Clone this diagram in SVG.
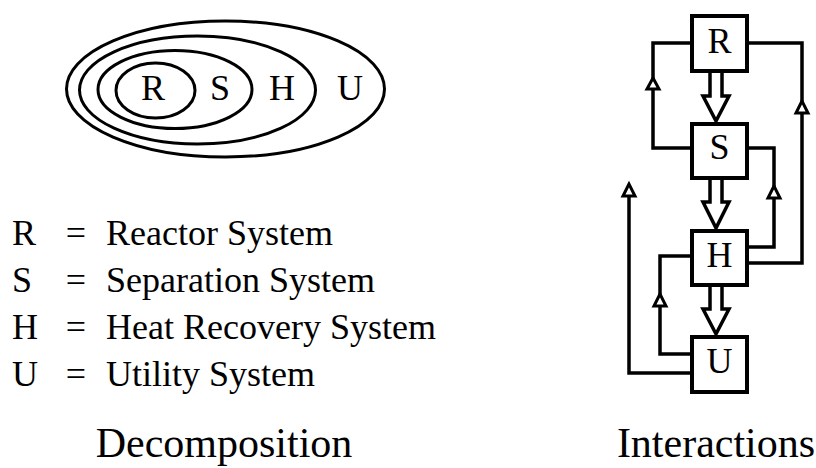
<svg xmlns="http://www.w3.org/2000/svg" width="816" height="468" viewBox="0 0 816 468" font-family="'Liberation Serif', 'DejaVu Serif', 'Times New Roman', serif">
  <style>
    text { font-family: 'Liberation Serif', 'DejaVu Serif', 'Times New Roman', serif; fill: #000; }
    .lbl { font-size: 36px; }
    .title { font-size: 42px; text-anchor: middle; }
    .mid { text-anchor: middle; }
    .ring { fill: none; stroke: #000; stroke-width: 3; }
    .box rect { fill: #fff; stroke: #000; stroke-width: 4; }
    .wire { fill: none; stroke: #000; stroke-width: 3.5; stroke-linejoin: miter; }
    .block { fill: #fff; stroke: #000; stroke-width: 3.5; stroke-linejoin: miter; }
    .tri { fill: #fff; stroke: #000; stroke-width: 3; stroke-linejoin: miter; }
  </style>
  <rect width="816" height="468" fill="#fff"/>

  <!-- Nested system layers -->
  <g id="decomposition">
    <ellipse class="ring" cx="225.5" cy="89" rx="159" ry="68"/>
    <ellipse class="ring" cx="197.5" cy="90" rx="118" ry="54"/>
    <ellipse class="ring" cx="175" cy="89.5" rx="77" ry="39"/>
    <ellipse class="ring" cx="155.5" cy="90.5" rx="39.5" ry="27.5"/>
    <text class="lbl mid" x="153" y="100">R</text>
    <text class="lbl mid" x="220" y="100">S</text>
    <text class="lbl mid" x="282" y="100">H</text>
    <text class="lbl mid" x="350" y="100">U</text>
  </g>

  <!-- Legend -->
  <g id="legend" class="lbl">
    <text x="12" y="245">R</text><text class="mid" x="76" y="245">=</text><text x="106" y="245">Reactor System</text>
    <text x="12" y="292">S</text><text class="mid" x="76" y="292">=</text><text x="106" y="292">Separation System</text>
    <text x="12" y="339">H</text><text class="mid" x="76" y="339">=</text><text x="106" y="339">Heat Recovery System</text>
    <text x="12" y="386">U</text><text class="mid" x="76" y="386">=</text><text x="106" y="386">Utility System</text>
  </g>

  <text class="title" x="224" y="457">Decomposition</text>
  <text class="title" x="716" y="457">Interactions</text>

  <!-- Connectors -->
  <g id="connectors">
    <!-- feedback loops -->
    <path class="wire" d="M692,148 H653 V43 H692"/>
    <path class="wire" d="M747,43 H802 V263 H747"/>
    <path class="wire" d="M747,148 H774 V247 H747"/>
    <path class="wire" d="M692,256 H660 V354 H692"/>
    <path class="wire" d="M692,373 H629 V197"/>
    <polygon class="tri" points="653,78 647,89 659,89"/>
    <polygon class="tri" points="802,101 796,113 808,113"/>
    <polygon class="tri" points="774,186 768,198 780,198"/>
    <polygon class="tri" points="660,294 654,306 666,306"/>
    <polygon class="tri" points="629,184 623,196 635,196"/>
    <!-- forward block arrows -->
    <path class="block" d="M710,71 V96 H703 L716,121 L729,96 H722 V71"/>
    <path class="block" d="M710,178 V202 H703 L716,228 L729,202 H722 V178"/>
    <path class="block" d="M710,285 V309 H703 L716,334 L729,309 H722 V285"/>
  </g>

  <!-- System blocks -->
  <g id="node-R" class="box">
    <rect x="692" y="16" width="55" height="55"/>
    <text class="lbl mid" x="719.5" y="53">R</text>
  </g>
  <g id="node-S" class="box">
    <rect x="692" y="124" width="55" height="54"/>
    <text class="lbl mid" x="719.5" y="159">S</text>
  </g>
  <g id="node-H" class="box">
    <rect x="692" y="231" width="55" height="54"/>
    <text class="lbl mid" x="719.5" y="267">H</text>
  </g>
  <g id="node-U" class="box">
    <rect x="692" y="337" width="55" height="55"/>
    <text class="lbl mid" x="719.5" y="373">U</text>
  </g>
</svg>
